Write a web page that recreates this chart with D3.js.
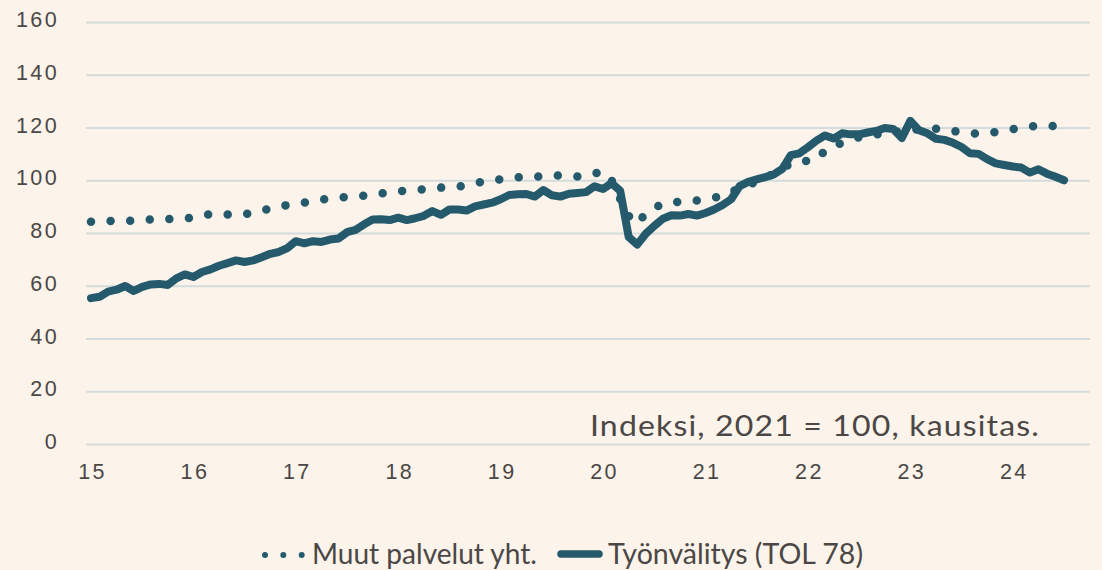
<!DOCTYPE html>
<html>
<head>
<meta charset="utf-8">
<script src="https://cdn.jsdelivr.net/npm/d3@7"></script>
<style>
  html, body { margin: 0; padding: 0; background: #FCF3EA; }
  svg { display: block; font-family: Lato, "Open Sans", sans-serif; }
  .axis text { fill: #4a4746; font-size: 21.5px; letter-spacing: 2.4px; }
  .axis .domain { display: none; }
  .y-axis line { stroke: #D3DCDC; stroke-width: 2; }
</style>
</head>
<body>
<svg id="chart"></svg>
<script>
// monthly index values, 2015M01 ... 2024M07 (2021 = 100)
const months = d3.range(0, 115); // month index from Jan 2015
const yearTicks = [0, 12, 24, 36, 48, 60, 72, 84, 96, 108];
const yearLabels = ["15", "16", "17", "18", "19", "20", "21", "22", "23", "24"];
const yTicks = [0, 20, 40, 60, 80, 100, 120, 140, 160];

// Muut palvelut yht. (dotted)
const muutPalvelut = [
  84.3, 84.4, 84.5, 84.6, 84.6, 84.7, 84.9, 85.1, 85.2, 85.3, 85.4, 85.6,
  85.8, 86.6, 87.2, 87.2, 87.0, 86.9, 87.1, 87.8, 88.6, 89.2, 90.0, 90.6,
  91.0, 91.5, 92.1, 92.7, 93.1, 93.4, 93.6, 93.9, 94.1, 94.5, 95.0, 95.5,
  95.8, 96.0, 96.3, 96.5, 96.9, 97.2, 97.4, 97.6, 98.0, 98.8, 99.6, 100.0,
  100.3, 100.7, 101.1, 101.4, 101.4, 101.5, 101.9, 101.8, 101.6, 101.4, 101.7, 102.6,
  103.3, 100.0, 93.0, 86.5, 83.5, 87.5, 89.5, 91.0, 91.7, 91.8, 92.0, 92.3,
  92.8, 93.3, 94.2, 95.5, 97.0, 98.2, 99.4, 101.0, 102.4, 104.3, 106.5, 107.2,
  107.3, 107.8, 111.2, 113.0, 114.2, 115.3, 116.3, 117.0, 117.4, 117.8, 118.3, 118.8,
  119.2, 119.3, 119.4, 119.5, 119.3, 118.7, 118.1, 117.8, 117.6, 117.8, 118.3, 118.8,
  119.4, 120.1, 120.4, 120.6, 120.6, 120.6, 120.6
];

// Työnvälitys (TOL 78) (solid)
const tyonvalitys = [
  55.3, 55.8, 57.8, 58.5, 59.9, 58.0, 59.6, 60.5, 60.7, 60.3, 62.8, 64.3,
  63.3, 65.2, 66.2, 67.6, 68.6, 69.6, 69.0, 69.6, 70.8, 72.1, 72.8, 74.3,
  76.9, 76.1, 76.9, 76.6, 77.5, 77.9, 80.3, 81.2, 83.3, 85.1, 85.2, 84.9,
  85.8, 84.9, 85.6, 86.5, 88.3, 86.9, 88.9, 88.9, 88.5, 90.1, 90.8, 91.5,
  92.8, 94.4, 94.7, 94.8, 93.8, 96.3, 94.3, 93.8, 94.9, 95.2, 95.5, 97.7,
  96.7, 98.9, 96.0, 78.5, 75.6, 79.7, 82.7, 85.4, 86.7, 86.6, 87.2, 86.6,
  87.6, 88.9, 90.6, 92.8, 97.8, 99.4, 100.3, 101.2, 102.2, 104.3, 109.5, 110.2,
  112.5, 115.0, 117.0, 115.8, 117.8, 117.4, 117.4, 118.1, 118.7, 119.8, 119.4, 116.0,
  122.5, 119.0, 117.8, 115.7, 115.3, 114.2, 112.6, 110.2, 110.0, 108.0, 106.4, 105.8,
  105.2, 104.8, 102.9, 104.2, 102.5, 101.3, 100.0
];

const seriesNames = ["Muut palvelut yht.", "Työnvälitys (TOL 78)"];
const note = "Indeksi, 2021 = 100, kausitas.";

const width = 1102;
const height = 570;
const lineColor = "#245A6C";

const svg = d3.select("#chart")
  .attr("width", width)
  .attr("height", height);

//Scales
const x = d3.scaleLinear()
  .domain([0, 114])
  .range([91, 1064]);

const y = d3.scaleLinear()
  .domain([0, 160])
  .range([444, 22]);

//Y axis with gridlines
svg.append("g")
  .attr("class", "axis y-axis")
  .attr("transform", "translate(86,0)")
  .call(d3.axisLeft(y).tickValues(yTicks).tickSize(-(1090 - 86)).tickPadding(27))
  .selectAll("text")
  .attr("dy", "0.22em");

//X axis, labels only
svg.append("g")
  .attr("class", "axis x-axis")
  .attr("transform", "translate(0,444)")
  .call(d3.axisBottom(x).tickValues(yearTicks).tickSize(0).tickPadding(20)
    .tickFormat((d, i) => yearLabels[i]))
  .selectAll("text")
  .attr("dx", "1px");

const line = d3.line()
  .x((d, i) => x(months[i]))
  .y(d => y(d));

//Dotted series
svg.append("path")
  .datum(muutPalvelut)
  .attr("d", line)
  .attr("fill", "none")
  .attr("stroke", lineColor)
  .attr("stroke-width", 8.5)
  .attr("stroke-linecap", "round")
  .attr("stroke-dasharray", "0 19.6");

//Solid series
svg.append("path")
  .datum(tyonvalitys)
  .attr("d", line)
  .attr("fill", "none")
  .attr("stroke", lineColor)
  .attr("stroke-width", 8)
  .attr("stroke-linejoin", "round")
  .attr("stroke-linecap", "round");

//Annotation
svg.append("text")
  .attr("x", 590)
  .attr("y", 436)
  .attr("fill", "#4a4746")
  .style("font-size", "28px")
  .style("letter-spacing", "1px")
  .attr("textLength", 450)
  .attr("lengthAdjust", "spacingAndGlyphs")
  .text(note);

//Legend
const legend = svg.append("g").attr("class", "legend");

legend.selectAll("circle")
  .data([265, 283.3, 301.7])
  .enter()
  .append("circle")
  .attr("cx", d => d)
  .attr("cy", 555)
  .attr("r", 3)
  .attr("fill", lineColor);

legend.append("text")
  .attr("x", 312)
  .attr("y", 564)
  .attr("fill", "#4a4746")
  .style("font-size", "28px")
  .attr("textLength", 225)
  .attr("lengthAdjust", "spacingAndGlyphs")
  .text(seriesNames[0]);

legend.append("line")
  .attr("x1", 561)
  .attr("x2", 599)
  .attr("y1", 554)
  .attr("y2", 554)
  .attr("stroke", lineColor)
  .attr("stroke-width", 7.5)
  .attr("stroke-linecap", "round");

legend.append("text")
  .attr("x", 608)
  .attr("y", 564)
  .attr("fill", "#4a4746")
  .style("font-size", "28px")
  .attr("textLength", 255)
  .attr("lengthAdjust", "spacingAndGlyphs")
  .text(seriesNames[1]);
</script>
</body>
</html>
